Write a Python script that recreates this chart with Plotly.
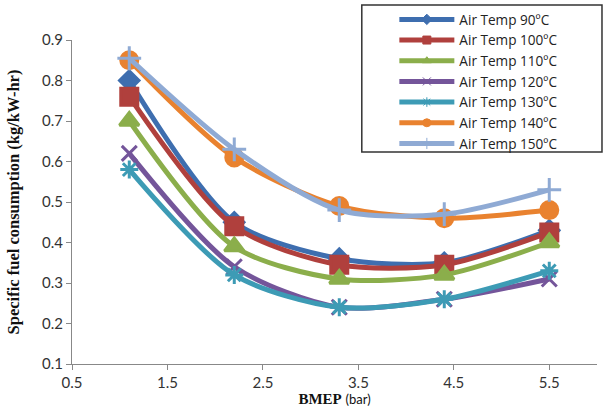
import plotly.graph_objects as go

bmep = [1.1, 2.2, 3.3, 4.4, 5.5]
series_names = ["Air Temp 90ºC", "Air Temp 100ºC", "Air Temp 110ºC", "Air Temp 120ºC",
                "Air Temp 130ºC", "Air Temp 140ºC", "Air Temp 150ºC"]
sfc_90 = [0.80, 0.45, 0.36, 0.35, 0.43]
sfc_100 = [0.76, 0.44, 0.345, 0.345, 0.425]
sfc_110 = [0.70, 0.39, 0.31, 0.32, 0.40]
sfc_120 = [0.62, 0.34, 0.24, 0.26, 0.31]
sfc_130 = [0.58, 0.32, 0.24, 0.26, 0.33]
sfc_140 = [0.85, 0.61, 0.49, 0.46, 0.48]
sfc_150 = [0.855, 0.63, 0.48, 0.47, 0.53]
series_values = [sfc_90, sfc_100, sfc_110, sfc_120, sfc_130, sfc_140, sfc_150]

colors = ["#3E6EAF", "#B0403D", "#8BAE4B", "#74559A", "#3D9BB5", "#E9822F", "#8FAAD4"]
symbols = ["diamond", "square", "triangle-up", "x-thin", "asterisk-open", "circle", "cross-thin"]
sizes = [15, 17, 17, 15, 15, 17, 17]

fig = go.Figure()
for name, vals, c, s, sz in zip(series_names, series_values, colors, symbols, sizes):
    fig.add_trace(go.Scatter(
        x=bmep, y=vals, name=name, mode="lines+markers", showlegend=False,
        line=dict(color=c, width=5, shape="spline", smoothing=0.8),
        marker=dict(symbol=s, size=sz, color=c, line=dict(color=c, width=3)),
    ))
# legend entries with small symbols, like the reference legend
for name, c, s in zip(series_names, colors, symbols):
    fig.add_trace(go.Scatter(
        x=[None], y=[None], name=name, mode="lines+markers",
        line=dict(color=c, width=5),
        marker=dict(symbol=s, size=8, color=c, line=dict(color=c, width=1)),
    ))

fig.update_layout(
    width=603, height=416,
    margin=dict(l=72, r=6, t=40, b=52, autoexpand=False),
    paper_bgcolor="white", plot_bgcolor="white",
    font=dict(family="Lato, Open Sans, sans-serif", size=15, color="#333333"),
    showlegend=True,
    legend=dict(x=0.614, y=1.111, xanchor="left", yanchor="top",
                bgcolor="rgba(0,0,0,0)", borderwidth=0,
                font=dict(family="Open Sans", size=13.6, color="#222222"), itemwidth=55,
                tracegroupgap=0),
    shapes=[dict(type="rect", xref="paper", yref="paper",
                 x0=0.552, x1=1.0095, y0=0.654, y1=1.108,
                 line=dict(color="#333333", width=1.5), fillcolor="rgba(0,0,0,0)")],
)
fig.update_xaxes(range=[0.5, 6.0], tickvals=[0.5, 1.5, 2.5, 3.5, 4.5, 5.5],
                 ticktext=["0.5", "1.5", "2.5", "3.5", "4.5", "5.5"],
                 showgrid=False, zeroline=False, showline=True, linecolor="#888888",
                 linewidth=1, ticks="outside", tickcolor="#888888", ticklen=5,
                 title=dict(text="<b>BMEP</b> <span style='font-family:Lato;font-size:13px'>(bar)</span>",
                            font=dict(family="Liberation Serif", size=15, color="#111111"),
                            standoff=2))
fig.update_yaxes(range=[0.1, 0.9], dtick=0.1, tickformat=".1f",
                 showgrid=False, zeroline=False, showline=True, linecolor="#888888",
                 linewidth=1, ticks="outside", tickcolor="#888888", ticklen=5,
                 title=dict(text="<b>Specific fuel consumption (kg/kW-hr)</b>",
                            font=dict(family="Liberation Serif", size=16.5, color="#111111"),
                            standoff=18))

fig.write_html("out.html")
